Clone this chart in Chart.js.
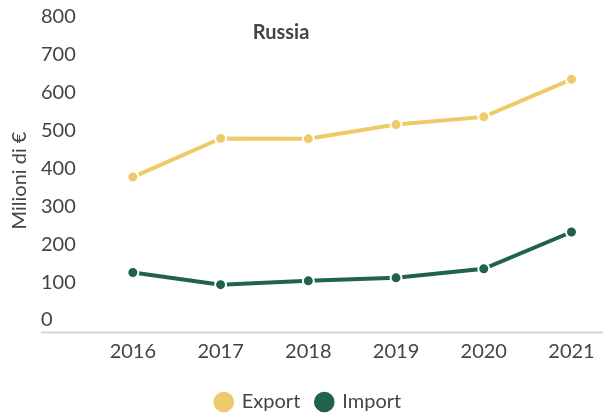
<!DOCTYPE html>
<html>
<head>
<meta charset="utf-8">
<script src="https://cdn.jsdelivr.net/npm/chart.js@4"></script>
<style>
  html, body { margin: 0; padding: 0; background: #fff; }
  #wrap { width: 603px; height: 418px; }
</style>
</head>
<body>
<div id="wrap"><canvas id="russia"></canvas></div>
<script>
const years = [2016, 2017, 2018, 2019, 2020, 2021];
const exportVals = [409, 511, 510, 548, 568, 667];
const importVals = [157, 125, 135, 143, 167, 264];
const yTicks = [0, 100, 200, 300, 400, 500, 600, 700, 800];

const FONT = 'Lato, "Open Sans", sans-serif';
const INK = '#444';

const pts = vals => vals.map((v, i) => ({ x: years[i], y: v }));

// title inside the plot, rotated unit label, and a base line running under the y labels
const extras = {
  id: 'extras',
  afterLayout(chart) {
    // nudge the legend a bit to the left of the canvas centre
    chart.legend.left -= 12;
    chart.legend.right -= 12;
  },
  afterDraw(chart) {
    const { ctx, chartArea, scales } = chart;
    const y0 = Math.round(scales.y.getPixelForValue(0)) + 0.5;
    ctx.save();
    ctx.strokeStyle = '#d6d6d6';
    ctx.lineWidth = 2;
    ctx.beginPath();
    ctx.moveTo(scales.y.left, y0);
    ctx.lineTo(chart.width, y0);
    ctx.stroke();

    ctx.fillStyle = INK;
    ctx.textAlign = 'center';
    ctx.textBaseline = 'middle';
    ctx.font = 'bold 20px ' + FONT;
    ctx.fillText('Russia', 281, 33);

    ctx.font = '20px ' + FONT;
    ctx.translate(20, (chartArea.top + chartArea.bottom) / 2);
    ctx.rotate(-Math.PI / 2);
    ctx.fillText('Milioni di €', 0, 0);
    ctx.restore();
  }
};

new Chart(document.getElementById('russia'), {
  type: 'line',
  data: {
    datasets: [
      {label: 'Export', data: pts(exportVals), borderColor: '#efca6b', backgroundColor: '#efca6b'},
      {label: 'Import', data: pts(importVals), borderColor: '#20614f', backgroundColor: '#20614f'}
    ].map(d => Object.assign(d, {
      borderWidth: 4,
      pointRadius: 5.5,
      pointHoverRadius: 5.5,
      pointBorderColor: '#fff',
      pointBorderWidth: 2,
      pointBackgroundColor: d.borderColor,
      tension: 0
    }))
  },
  options: {
    responsive: true,
    maintainAspectRatio: false,
    animation: false,
    layout: { padding: { left: 41, right: 3, top: 29, bottom: -4 } },
    plugins: {
      legend: {
        position: 'bottom',
        labels: {
          usePointStyle: true, pointStyle: 'circle',
          boxWidth: 16, boxHeight: 16, padding: 16,
          color: INK, font: { family: FONT, size: 20 }
        }
      },
      tooltip: { enabled: false }
    },
    scales: {
      x: {
        type: 'linear',
        min: 2015.5, max: 2021.24,
        grid: { display: false, drawTicks: false, tickLength: 0 },
        border: { display: false },
        afterFit: s => { s.height += 4; },
        ticks: {
          stepSize: 1, includeBounds: false, padding: 8,
          color: INK, font: { family: FONT, size: 20 },
          callback: v => String(v)
        }
      },
      y: {
        min: 0, max: 800,
        afterBuildTicks: s => { s.ticks = yTicks.map(v => ({ value: v })); },
        afterFit: s => { s.width = 48; },
        grid: { display: false },
        border: { display: false },
        ticks: {
          crossAlign: 'far', labelOffset: -12,
          color: INK, font: { family: FONT, size: 20 }
        }
      }
    }
  },
  plugins: [extras]
});
</script>
</body>
</html>
